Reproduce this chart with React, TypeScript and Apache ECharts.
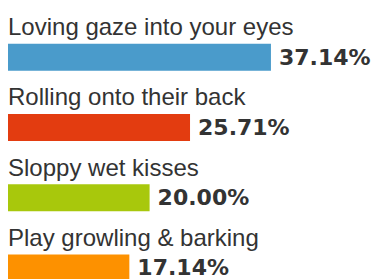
import React, { useEffect, useRef } from "react";
import * as echarts from "echarts";

const categories = [
  "Loving gaze into your eyes",
  "Rolling onto their back",
  "Sloppy wet kisses",
  "Play growling & barking",
];
const values = [37.14, 25.71, 20.0, 17.14];
const colors = ["#4a9bcb", "#e33c10", "#a8c80c", "#fd9100"];

export default function App() {
  const ref = useRef<HTMLDivElement>(null);
  useEffect(() => {
    if (!ref.current) return;
    const chart = echarts.init(ref.current, null, { renderer: "svg" });
    chart.setOption({
      animation: false,
      backgroundColor: "#ffffff",
      grid: {
        left: 8,
        top: 22,
        width: 354,
        height: 281,
        containLabel: false,
        outerBoundsMode: "none",
      },
      xAxis: {
        type: "value",
        min: 0,
        max: 50,
        show: false,
      },
      yAxis: {
        type: "category",
        data: categories,
        inverse: true,
        show: false,
      },
      series: [
        {
          type: "bar",
          barWidth: 27,
          data: values.map((v, i) => ({ value: v, itemStyle: { color: colors[i] } })),
          label: {
            show: true,
            position: "right",
            distance: 8,
            formatter: (p: any) => p.value.toFixed(2) + "%",
            fontSize: 22,
            fontWeight: "bold",
            fontFamily: "DejaVu Sans, Verdana, sans-serif",
            color: "#333333",
          },
        },
        {
          type: "bar",
          barWidth: 27,
          barGap: "-100%",
          silent: true,
          data: values,
          itemStyle: { color: "rgba(0,0,0,0)" },
          label: {
            show: true,
            position: [0, -29],
            align: "left",
            verticalAlign: "top",
            lineHeight: 24,
            fontSize: 24,
            fontFamily: "Liberation Sans, Arial, sans-serif",
            color: "#333333",
            formatter: (p: any) => categories[p.dataIndex],
          },
        },
      ],
    });
    return () => chart.dispose();
  }, []);
  return (
    <div
      ref={ref}
      style={{ position: "fixed", left: 0, top: 0, width: 377, height: 279 }}
    />
  );
}
